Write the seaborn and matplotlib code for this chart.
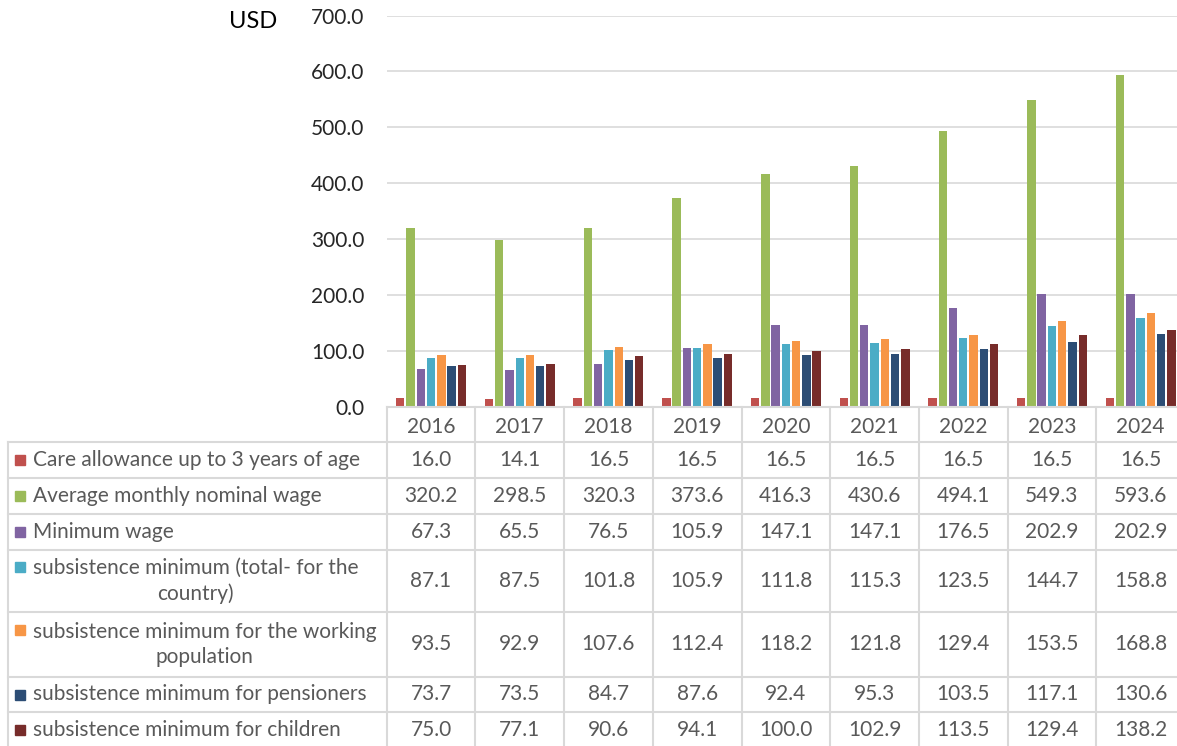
import pandas as pd
import matplotlib.pyplot as plt
from matplotlib.lines import Line2D
from matplotlib.patches import Rectangle
import seaborn as sns

# Chart data (USD)
years = ['2016', '2017', '2018', '2019', '2020', '2021', '2022', '2023', '2024']
series_names = [
    'Care allowance up to 3 years of age',
    'Average monthly nominal wage',
    'Minimum wage',
    'subsistence minimum (total- for the\ncountry)',
    'subsistence minimum for the working\npopulation',
    'subsistence minimum for pensioners',
    'subsistence minimum for children',
]
care_allowance = [16.0, 14.1, 16.5, 16.5, 16.5, 16.5, 16.5, 16.5, 16.5]
avg_wage = [320.2, 298.5, 320.3, 373.6, 416.3, 430.6, 494.1, 549.3, 593.6]
min_wage = [67.3, 65.5, 76.5, 105.9, 147.1, 147.1, 176.5, 202.9, 202.9]
subs_total = [87.1, 87.5, 101.8, 105.9, 111.8, 115.3, 123.5, 144.7, 158.8]
subs_working = [93.5, 92.9, 107.6, 112.4, 118.2, 121.8, 129.4, 153.5, 168.8]
subs_pensioners = [73.7, 73.5, 84.7, 87.6, 92.4, 95.3, 103.5, 117.1, 130.6]
subs_children = [75.0, 77.1, 90.6, 94.1, 100.0, 102.9, 113.5, 129.4, 138.2]

colors = ['#C0504D', '#9BBB59', '#8064A2', '#4BACC6', '#F79646', '#2C4D75', '#772C2A']

all_values = [care_allowance, avg_wage, min_wage, subs_total,
              subs_working, subs_pensioners, subs_children]

rows = []
for name, vals in zip(series_names, all_values):
    for y, v in zip(years, vals):
        rows.append({'Year': y, 'Series': name, 'USD': v})
df = pd.DataFrame(rows)

W, H = 1177, 746
FS = 15
plt.rcParams['font.family'] = ['Lato', 'DejaVu Sans']
fig = plt.figure(figsize=(W / 100, H / 100), dpi=100)

# plot area in pixel coords
left_px, right_px, top_px, bottom_px = 386.7, 1185.0, 15.5, 407.0
ax = fig.add_axes([left_px / W, 1 - bottom_px / H,
                   (right_px - left_px) / W, (bottom_px - top_px) / H])

sns.barplot(data=df, x='Year', y='USD', hue='Series', order=years,
            hue_order=series_names, palette=colors, width=0.81, gap=0.18,
            linewidth=0, saturation=1, legend=False, ax=ax)

ax.set_ylim(0, 700)
ax.set_xlim(-0.5, len(years) - 0.5)
ax.set_yticks(range(0, 701, 100))
ax.set_yticklabels([f'{v:.1f}' for v in range(0, 701, 100)], fontsize=FS, color='#262626')
ax.grid(axis='y', color='#D9D9D9', linewidth=1.2)
ax.set_axisbelow(True)
ax.tick_params(axis='y', length=0, pad=16)
ax.tick_params(axis='x', length=0, pad=7, labelsize=FS, labelcolor='#595959')
ax.set_xlabel('')
ax.set_ylabel('')
for s in ax.spines.values():
    s.set_visible(False)

fig.text(229 / W, 1 - 22 / H, 'USD', fontsize=17, color='#000000', va='center', ha='left')

# data table below the chart
line_c = '#D9D9D9'
col_w = (right_px - left_px) / len(years)
row_edges = [441.7, 477.7, 514.3, 550.0, 612.3, 676.7, 712.3, 748.0]


def fx(x):
    return x / W


def fy(y):
    return 1 - y / H


# horizontal lines
fig.add_artist(Line2D([fx(left_px), fx(right_px)], [fy(bottom_px), fy(bottom_px)],
                      color=line_c, lw=1.5))
for y in row_edges:
    fig.add_artist(Line2D([fx(8), fx(right_px)], [fy(y), fy(y)], color=line_c, lw=1.5))
# vertical lines
fig.add_artist(Line2D([fx(8), fx(8)], [fy(row_edges[0]), fy(row_edges[-1])], color=line_c, lw=1.5))
for i in range(len(years) + 1):
    x = left_px + i * col_w
    fig.add_artist(Line2D([fx(x), fx(x)], [fy(bottom_px), fy(row_edges[-1])], color=line_c, lw=1.5))

# row labels with legend keys and values
for r, (name, vals, c) in enumerate(zip(series_names, all_values, colors)):
    y0, y1 = row_edges[r], row_edges[r + 1]
    yc = (y0 + y1) / 2
    n_lines = name.count('\n') + 1
    key_y = yc - (n_lines - 1) * 14.5
    fig.add_artist(Rectangle((fx(15), fy(key_y + 5)), 10 / W, 10 / H, color=c,
                             transform=fig.transFigure))
    fig.text(fx(33), fy(yc), name, fontsize=FS, color='#595959', ha='left',
             va='center', multialignment='center', linespacing=1.35)
    for i, v in enumerate(vals):
        fig.text(fx(left_px + (i + 0.5) * col_w), fy(yc), f'{v:.1f}', fontsize=FS,
                 color='#595959', ha='center', va='center')

fig.savefig('out.png', dpi=100)
